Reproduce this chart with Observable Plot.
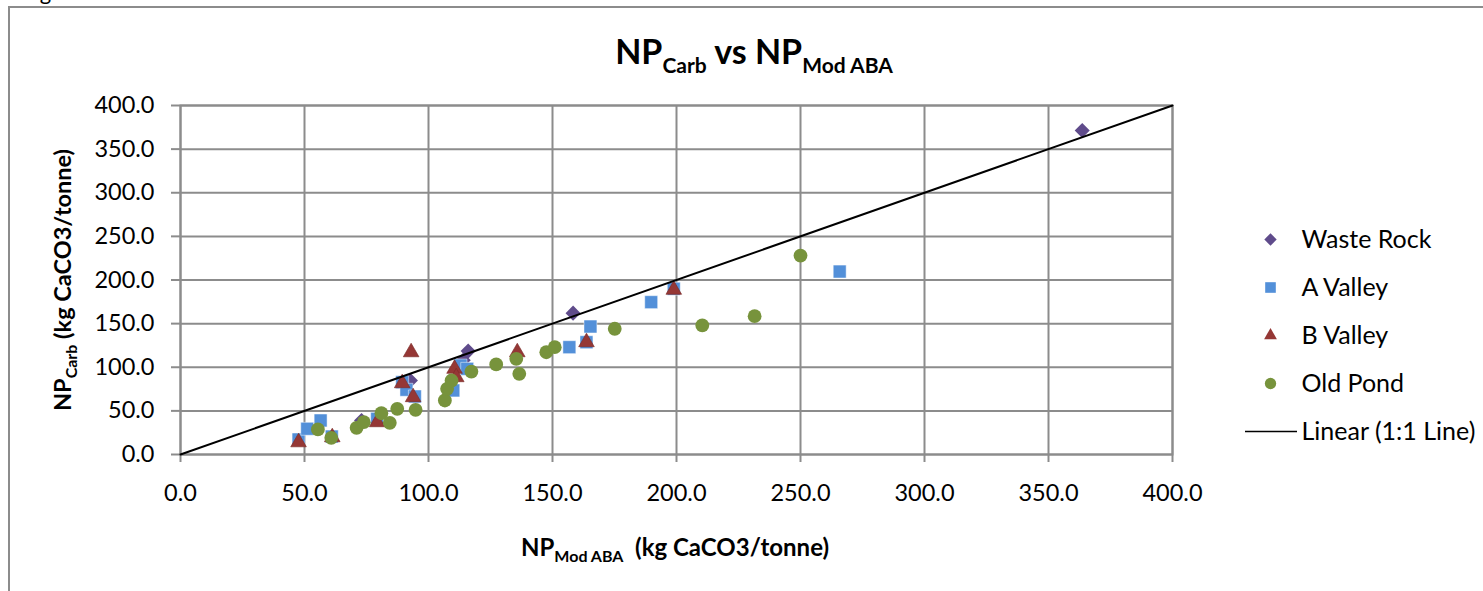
<!DOCTYPE html>
<html>
<head>
<meta charset="utf-8">
<script src="https://cdn.jsdelivr.net/npm/d3@7"></script>
<script src="https://cdn.jsdelivr.net/npm/@observablehq/plot@0.6"></script>
<style>
  html, body { margin: 0; padding: 0; background: #fff; overflow: hidden; }
  #wrap { position: relative; width: 1483px; height: 591px; overflow: hidden; font-family: Lato, "Open Sans", sans-serif; color: #000; }
  #box { position: absolute; left: 8px; top: 6px; width: 1600px; height: 700px; border: 2px solid #8c8c8c; box-sizing: border-box; }
  #fig { position: absolute; left: 22px; top: -19px; font-size: 22px; line-height: 22px; white-space: nowrap; }
  #chart { position: absolute; left: 0; top: 0; }
  #legend { position: absolute; left: 1240px; top: 214px; }
  .t { position: absolute; white-space: nowrap; font-weight: bold; }
  #title { left: 754px; top: 31px; transform: translateX(-50%); font-size: 34px; line-height: 40px; }
  #title sub { font-size: 21px; vertical-align: -9px; line-height: 0; }
  #xlab { left: 675px; top: 533px; transform: translateX(-50%); font-size: 24px; line-height: 28px; }
  #xlab sub, #ylab sub { font-size: 16px; vertical-align: -6px; line-height: 0; }
  #ylab { left: 62px; top: 280px; transform: translate(-50%, -50%) rotate(-90deg); font-size: 23.5px; line-height: 28px; }
</style>
</head>
<body>
<div id="wrap">
  <div id="box"></div>
  <div id="fig">Figure</div>
  <div id="chart"></div>
  <div id="legend"></div>
  <div class="t" id="title">NP<sub>Carb</sub> vs NP<sub>Mod ABA</sub></div>
  <div class="t" id="xlab">NP<sub>Mod ABA</sub>&nbsp; (kg CaCO3/tonne)</div>
  <div class="t" id="ylab">NP<sub>Carb</sub> (kg CaCO3/tonne)</div>
</div>
<script>
// ---- data ----
const seriesNames = ["Waste Rock", "A Valley", "B Valley", "Old Pond"];
const lineName = "Linear (1:1 Line)";

const wasteX = [73, 92.7, 114, 116, 158.3, 363.6];
const wasteY = [39, 84.8, 108, 118.5, 162, 371.3];

const aValleyX = [47.6, 51.1, 56.5, 61, 79.3, 89.4, 91.1, 94.5, 110, 112.9, 115.6, 156.8, 163.7, 165.3, 189.8, 198.9, 265.8];
const aValleyY = [17.2, 29.5, 39, 20.6, 40.9, 82.9, 74.2, 66.5, 73.4, 102, 98.2, 123, 128.7, 146.7, 174.6, 190, 209.7];

const bValleyX = [47.6, 61.2, 79.3, 89.4, 93, 93.8, 110.5, 111.2, 135.8, 163.7, 198.9];
const bValleyY = [14, 19.8, 37, 81.7, 117.2, 65.7, 98.2, 88.6, 117.2, 128.7, 188.8];

const oldPondX = [55.4, 60.8, 71, 73.9, 81, 84.4, 87.4, 94.8, 106.6, 107.5, 109.3, 117.3, 127.3, 135.4, 136.6, 147.5, 150.9, 175.1, 210.4, 231.5, 250];
const oldPondY = [28.7, 19.1, 30.6, 37, 47.3, 36.3, 52.4, 51.2, 61.9, 75.3, 84.8, 95.1, 103.2, 109.7, 92.5, 117.2, 123, 144.1, 147.9, 158.5, 228];

const lineX = [0, 400];
const lineY = [0, 400];

const xTicks = [0, 50, 100, 150, 200, 250, 300, 350, 400];
const yTicks = [0, 50, 100, 150, 200, 250, 300, 350, 400];

// ---- styling ----
const colors = { "Waste Rock": "#5f4b8b", "A Valley": "#5390d9", "B Valley": "#953735", "Old Pond": "#77933c" };
const symbols = { "Waste Rock": "diamond2", "A Valley": "square", "B Valley": "triangle", "Old Pond": "circle" };
const radii = { "Waste Rock": 6.8, "A Valley": 7.3, "B Valley": 5.8, "Old Pond": 6.9 };
const strokes = { "Waste Rock": "none", "A Valley": "#ffffff", "B Valley": "#7a2a28", "Old Pond": "none" };
const gridColor = "#8c8c8c";

const seriesData = {
  "Waste Rock": [wasteX, wasteY],
  "A Valley": [aValleyX, aValleyY],
  "B Valley": [bValleyX, bValleyY],
  "Old Pond": [oldPondX, oldPondY]
};

const dotMarks = seriesNames.map(name => {
  const [xs, ys] = seriesData[name];
  const rows = xs.map((x, i) => ({ x, y: ys[i] }));
  return Plot.dot(rows, {
    x: "x", y: "y",
    symbol: symbols[name],
    fill: colors[name],
    r: radii[name],
    stroke: strokes[name],
    strokeWidth: name === "A Valley" ? 0.6 : 0.8,
    strokeOpacity: 0.8
  });
});

const fmt = d => d.toFixed(1);

const chart = Plot.plot({
  width: 1483, height: 591,
  marginLeft: 180, marginRight: 311, marginTop: 105, marginBottom: 137,
  style: { fontFamily: "Lato, 'Open Sans', sans-serif", fontSize: "23px", color: "#000", background: "transparent", overflow: "visible" },
  x: { domain: [0, 400] },
  y: { domain: [0, 400] },
  marks: [
    Plot.gridX(xTicks, { stroke: gridColor, strokeWidth: 2, strokeOpacity: 1 }),
    Plot.gridY(yTicks, { stroke: gridColor, strokeWidth: 2, strokeOpacity: 1 }),
    Plot.frame({ stroke: gridColor, strokeWidth: 2 }),
    Plot.axisX(xTicks, { tickFormat: fmt, tickSize: 8, tickPadding: 22, stroke: gridColor, strokeWidth: 2, fill: "#000", label: null, fontSize: 23.5 }),
    Plot.axisY(yTicks, { tickFormat: fmt, tickSize: 9, tickPadding: 17, stroke: gridColor, strokeWidth: 2, fill: "#000", label: null, fontSize: 23.5 }),
    ...dotMarks,
    Plot.line(lineX.map((x, i) => ({ x, y: lineY[i] })), { x: "x", y: "y", stroke: "#000", strokeWidth: 2 })
  ]
});
document.getElementById("chart").appendChild(chart);

// ---- legend ----
const legendItems = [...seriesNames, lineName];
const legendDots = seriesNames.map(name => Plot.dot([name], {
  x: 30, y: d => d,
  symbol: symbols[name],
  fill: colors[name],
  r: radii[name] * 0.82
}));
const legend = Plot.plot({
  width: 243, height: 250,
  margin: 0,
  style: { fontFamily: "Lato, 'Open Sans', sans-serif", fontSize: "25px", color: "#000", background: "transparent", overflow: "visible" },
  x: { domain: [0, 243], range: [0, 243], axis: null },
  y: { type: "point", domain: legendItems, range: [24, 218], padding: 0, axis: null },
  marks: [
    ...legendDots,
    Plot.ruleY([lineName], { y: d => d, x1: 5, x2: 57, stroke: "#000", strokeWidth: 1.5 }),
    Plot.text(legendItems, { x: 61, y: d => d, text: d => d, textAnchor: "start", fill: "#000", fontSize: 25 })
  ]
});
document.getElementById("legend").appendChild(legend);
</script>
</body>
</html>
